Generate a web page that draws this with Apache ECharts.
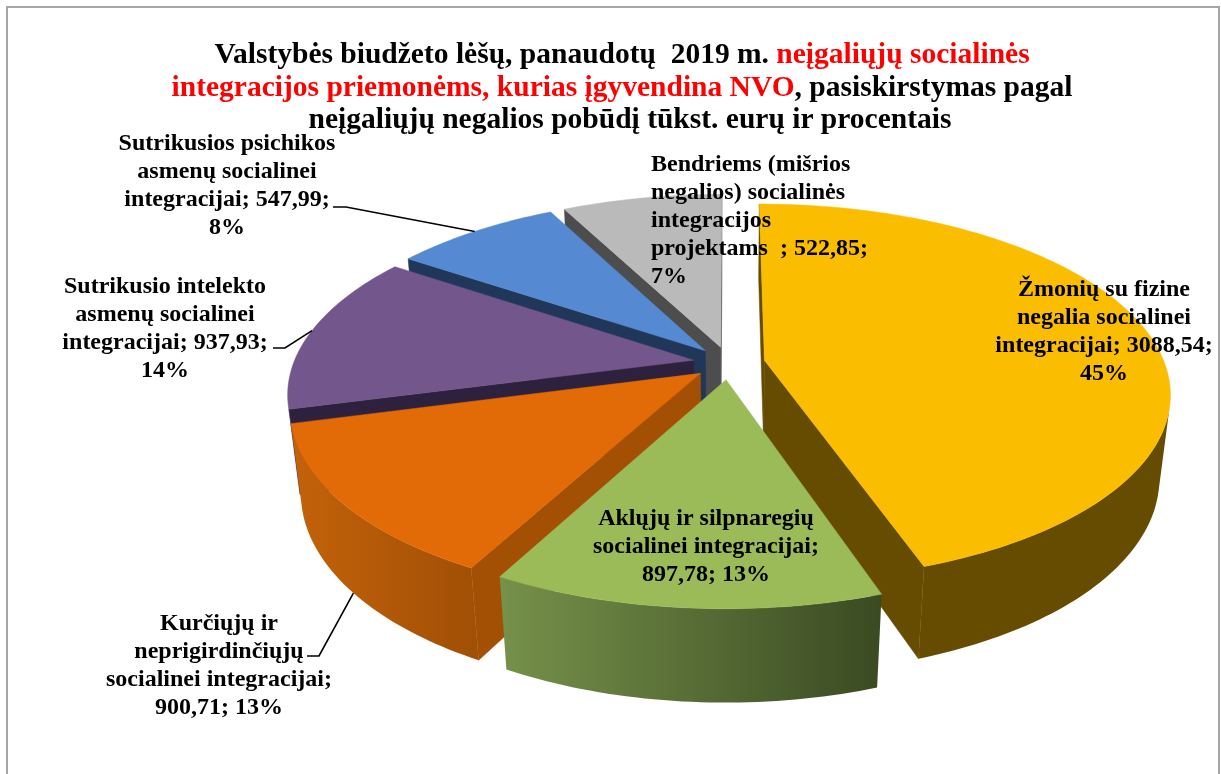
<!DOCTYPE html>
<html>
<head>
<meta charset="utf-8">
<style>html,body{margin:0;padding:0;background:#fff;overflow:hidden}#c{width:1221px;height:774px}</style>
<script src="https://cdn.jsdelivr.net/npm/echarts@6/dist/echarts.min.js"></script>
</head>
<body>
<div id="c"></div>
<script>
// ---- data ----
const categories = ["Žmonių su fizine\nnegalia socialinei\nintegracijai",
  "Aklųjų ir silpnaregių\nsocialinei integracijai",
  "Kurčiųjų ir\nneprigirdinčiųjų\nsocialinei integracijai",
  "Sutrikusio intelekto\nasmenų socialinei\nintegracijai",
  "Sutrikusios psichikos\nasmenų socialinei\nintegracijai",
  "Bendriems (mišrios\nnegalios) socialinės\nintegracijos\nprojektams  "];
const values = [3088.54, 897.78, 900.71, 937.93, 547.99, 522.85];
const percents = [45, 13, 13, 14, 8, 7];
const titleLines = [
  "{b|Valstybės biudžeto lėšų, panaudotų  2019 m. }{r|neįgaliųjų socialinės}",
  "{r|integracijos priemonėms, kurias įgyvendina NVO}{b|, pasiskirstymas pagal}",
  "{b|neįgaliųjų negalios pobūdį tūkst. eurų ir procentais}"];

// ---- styling and layout ----
const nameValueSep = [" ", "\n", "\n", " ", " ", " "];
const valuePctSep = ["\n", " ", " ", "\n", "\n", "\n"];
const topColors = ["#fbbd00", "#9bbb59", "#e26a07", "#72568c", "#558ad2", "#bababa"];
const radialWallColors = ["#664c00", "#5f7436", "#a34f04", "#2e213e", "#20375a", "#4d4d4d"];
const outerWallStops = [["#664c00", "#664c00"], ["#76914a", "#3a4a22"], ["#c4620a", "#a04f05"],
  ["#45345a", "#45345a"], ["#2f5488", "#2f5488"], ["#707070", "#707070"]];
const drawRank = [4, 5, 3, 2, 1, 0];
const labelPos = [
  {x: 1104, y: 332, align: "center"},
  {x: 706, y: 547, align: "center"},
  {x: 219, y: 666, align: "center"},
  {x: 165, y: 329, align: "center"},
  {x: 227, y: 186, align: "center"},
  {x: 651, y: 221, align: "left"}];
const leaderElbow = [null, null, [[307, 656], [319, 656]], [[273, 348], [285, 348]], [[333, 207], [346, 207]], null];
const leaderDepth = [0, 0, 1, 0, 0, 0];
const titleCenter = [622, 622, 630];
const titleTop = [39, 72, 104];

const CX = 729, CY = 363, RX = 400, RY = 183.7, H = 85, K = 0.17, M = 0.025, EXPLODE = 0.09;
function project(x, y, z) {
  const d = 1 + K * y + M * z;
  return [CX + RX * x / d, CY - RY * y / d + H * z / d];
}
const total = values.reduce((a, b) => a + b, 0);
const starts = [];
values.reduce((acc, v, i) => { starts[i] = acc; return acc + v; }, 0);
function wedge(i) {
  const a0 = starts[i] / total * 2 * Math.PI, a1 = (starts[i] + values[i]) / total * 2 * Math.PI;
  const m = (a0 + a1) / 2;
  return {a0, a1, m, ox: EXPLODE * Math.sin(m), oy: EXPLODE * Math.cos(m)};
}
function quadArea(p) {
  let s = 0;
  for (let i = 0; i < p.length; i++) {
    const q = p[(i + 1) % p.length];
    s += p[i][0] * q[1] - q[0] * p[i][1];
  }
  return s;
}
function sliceItem(params, api) {
  const i = api.value(1), w = wedge(i);
  const rim = (a, z) => project(w.ox + Math.sin(a), w.oy + Math.cos(a), z);
  const apex = z => project(w.ox, w.oy, z);
  const n = Math.max(4, Math.ceil((w.a1 - w.a0) / 0.02));
  const angles = [];
  for (let k = 0; k <= n; k++) angles.push(w.a0 + (w.a1 - w.a0) * k / n);
  const base = drawRank[i] * 10, children = [];
  const wall = (a, b, fillCol) => {
    const pts = [a(0), b(0), b(1), a(1)];
    if (quadArea(pts) < -0.01) {
      children.push({type: "polygon", z2: base + 1, shape: {points: pts},
        style: {fill: fillCol, stroke: fillCol, lineWidth: 0.5}});
    }
  };
  wall(apex, z => rim(w.a0, z), radialWallColors[i]);
  wall(z => rim(w.a1, z), apex, radialWallColors[i]);
  // outer curved wall: the arc steps that face the viewer form one shape
  const topEdge = [], botEdge = [];
  for (let k = 0; k < n; k++) {
    const q = [rim(angles[k], 0), rim(angles[k + 1], 0), rim(angles[k + 1], 1), rim(angles[k], 1)];
    if (quadArea(q) < 0) {
      if (!topEdge.length) { topEdge.push(q[0]); botEdge.push(q[3]); }
      topEdge.push(q[1]); botEdge.push(q[2]);
    }
  }
  if (topEdge.length) {
    const stops = outerWallStops[i];
    const grad = new echarts.graphic.LinearGradient(0, 0, 1, 0,
      [{offset: 0, color: stops[0]}, {offset: 1, color: stops[1]}]);
    children.push({type: "polygon", z2: base + 2, shape: {points: topEdge.concat(botEdge.reverse())},
      style: {fill: grad, stroke: null}});
  }
  const top = [apex(0)];
  angles.forEach(a => top.push(rim(a, 0)));
  children.push({type: "polygon", z2: base + 3, shape: {points: top},
    style: {fill: topColors[i], stroke: topColors[i], lineWidth: 0.5}});
  return {type: "group", children};
}
function labelText(i) {
  const v = values[i].toFixed(2).replace(".", ",");
  return categories[i] + ";" + nameValueSep[i] + v + ";" + valuePctSep[i] + percents[i] + "%";
}
function labelItem(params, api) {
  const i = api.value(1), w = wedge(i), lp = labelPos[i], children = [];
  if (leaderElbow[i]) {
    const x = w.ox + Math.sin(w.m), y = w.oy + Math.cos(w.m);
    children.push({type: "polyline", z2: 200,
      shape: {points: leaderElbow[i].concat([project(x, y, leaderDepth[i])])},
      style: {stroke: "#000", lineWidth: 1.6, fill: null}});
  }
  children.push({type: "text", z2: 210, style: {
    text: labelText(i), x: lp.x, y: lp.y, align: lp.align, verticalAlign: "middle",
    fontFamily: "Liberation Serif", fontWeight: "bold", fontSize: 24, lineHeight: 28, fill: "#000"}});
  return {type: "group", children};
}
const seriesData = values.map((v, i) => ({name: categories[i], value: [v, i]}));
const titleFont = {fontFamily: "Liberation Serif", fontWeight: "bold", fontSize: 29.5, lineHeight: 33};
const chart = echarts.init(document.getElementById("c"), null, {renderer: "canvas"});
chart.setOption({
  animation: false,
  backgroundColor: "#fff",
  title: titleLines.map((t, i) => ({
    left: titleCenter[i], top: titleTop[i], textAlign: "center", padding: 0, text: t,
    textStyle: Object.assign({color: "#000", rich: {
      b: Object.assign({color: "#000"}, titleFont),
      r: Object.assign({color: "#ff0000"}, titleFont)
    }}, titleFont)
  })),
  graphic: [{type: "rect", silent: true, z: -1, shape: {x: 7, y: 7, width: 1212, height: 820},
    style: {fill: "#fff", stroke: "#a6a6a6", lineWidth: 2}}],
  series: [
    {type: "custom", coordinateSystem: "none", silent: true, z: 2, data: seriesData, renderItem: sliceItem,
      encode: {value: 0}},
    {type: "custom", coordinateSystem: "none", silent: true, z: 5, data: seriesData, renderItem: labelItem,
      encode: {value: 0}}
  ]
});
</script>
</body>
</html>
